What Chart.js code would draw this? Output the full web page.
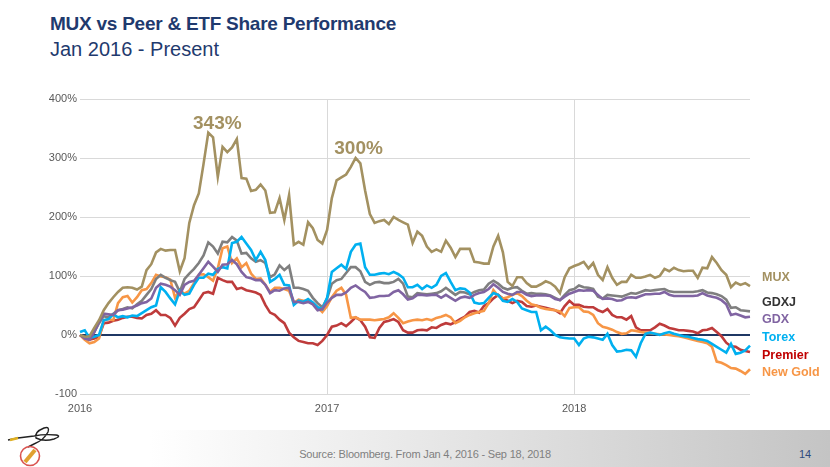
<!DOCTYPE html>
<html><head><meta charset="utf-8">
<script src="https://cdn.jsdelivr.net/npm/chart.js@4.4.1/dist/chart.umd.min.js"></script>
<style>
html,body{margin:0;padding:0;background:#fff;width:830px;height:467px;overflow:hidden;font-family:"Liberation Sans",Arial,sans-serif;}
#footer{position:absolute;left:0;top:430px;width:830px;height:37px;background:linear-gradient(to right,#ffffff 0%,#ffffff 18%,#ececec 45%,#c4c4c4 100%);}
#src{position:absolute;left:0;width:850px;top:448px;text-align:center;font-size:11px;color:#7f7f7f;letter-spacing:-0.2px;}
#pg{position:absolute;left:799px;top:448px;font-size:11px;color:#2e4a7d;}
#t1{position:absolute;left:50px;top:13px;font-size:19px;letter-spacing:-0.25px;font-weight:bold;color:#1f3a6e;white-space:nowrap;}
#t2{position:absolute;left:50px;top:38px;font-size:20px;color:#1f3a6e;white-space:nowrap;}
#wrap{position:absolute;left:0;top:0;width:830px;height:467px;}
#logo{position:absolute;left:4px;top:422px;}
</style></head>
<body>
<div id="footer"></div>
<div id="t1">MUX vs Peer &amp; ETF Share Performance</div>
<div id="t2">Jan 2016 - Present</div>
<div id="src">Source: Bloomberg. From Jan 4, 2016 - Sep 18, 2018</div>
<div id="pg">14</div>
<svg id="logo" width="60" height="45" viewBox="0 0 60 45">
 <path d="M4 18 L14 16 L30 14 Q40 12 52 13 Q58 14 50 17 Q40 20 32 16 Q30 10 40 6 Q46 4 44 10 Q40 18 30 22 L24 25" fill="none" stroke="#222" stroke-width="1.4"/>
 <path d="M6 18 L14 16" stroke="#e0b020" stroke-width="2.5"/>
 <circle cx="26" cy="34" r="9.5" fill="none" stroke="#d9534f" stroke-width="1.6"/>
 <path d="M21 40 L31 28" stroke="#e0a030" stroke-width="4"/>
</svg>
<div id="wrap"><canvas id="c" width="830" height="467"></canvas></div>
<script>
// ---- data ----
const seriesNames = ['MUX','GDXJ','GDX','Torex','Premier','New Gold'];
const yTicks = [-100, 0, 100, 200, 300, 400];
const yearTicks = {0:'2016', 52:'2017', 104:'2018'};
const peakIndex = [27, 58];
const peakLabel = ['343%', '300%'];

const mux = [0,-3,-2,12,25,42,54,64,73,80,81,80,77,82,110,120,140,146,143,144,144,108,130,190,220,240,290,343,335,268,319,310,318,332,266,265,244,246,255,245,207,208,232,195,237,153,158,153,191,181,161,155,178,232,262,267,272,285,300,291,245,205,190,193,195,188,200,195,191,187,156,175,168,150,141,145,141,160,148,132,146,146,146,124,123,121,121,150,168,140,90,83,98,98,88,82,82,86,91,88,82,71,98,113,117,120,124,113,122,102,93,115,97,85,90,90,102,97,97,99,102,97,100,112,108,114,110,108,109,109,97,114,113,132,122,110,102,81,89,85,88,83];
const gdxj = [0,-5,-8,5,20,32,30,36,42,44,47,45,52,58,68,78,95,102,97,93,90,73,95,104,112,122,135,157,150,138,158,157,166,160,138,139,130,124,127,122,98,103,118,110,117,80,80,78,75,63,54,47,62,87,93,95,105,115,115,108,90,85,89,90,88,88,90,95,87,65,64,71,70,69,70,71,74,80,74,68,73,72,69,73,76,77,87,92,87,80,77,80,81,75,70,71,70,70,69,67,63,59,68,76,78,84,81,80,78,65,62,68,67,66,65,68,71,70,73,76,75,76,77,78,74,73,73,73,73,73,74,76,72,71,69,66,60,46,47,42,41,40];
const gdx = [0,-6,-8,5,22,36,35,34,42,43,45,47,50,54,56,62,80,87,85,82,76,68,85,90,92,102,113,124,116,107,119,120,127,120,107,98,96,93,93,85,71,76,75,79,80,56,56,54,56,52,42,44,55,63,68,68,72,80,84,78,73,63,64,66,66,67,73,76,69,60,62,68,68,67,68,68,63,68,63,58,63,65,63,68,71,73,78,86,80,73,70,68,73,73,68,66,67,67,67,66,61,59,65,70,73,76,75,76,75,68,61,62,61,58,59,63,64,63,66,69,69,70,70,73,68,66,66,66,66,66,67,71,67,65,63,59,52,34,36,33,30,31];
const torex = [5,8,-5,-3,0,25,27,35,30,32,30,33,32,37,42,47,50,81,73,62,52,75,68,70,85,97,97,104,102,112,115,113,156,158,166,155,144,127,141,127,90,95,102,85,84,51,58,56,61,55,47,44,63,107,113,119,112,141,153,155,115,102,102,104,105,103,107,103,97,81,81,85,78,84,80,85,100,105,90,76,79,78,72,55,53,54,63,71,68,58,56,61,56,45,42,39,39,8,14,8,0,-4,-5,-6,-6,-17,-6,-3,-4,-6,-8,2,-17,-28,-27,-25,-26,-37,-14,2,4,2,0,3,5,2,0,-2,-3,-5,-7,-8,-10,-15,-20,-25,-30,-15,-32,-30,-26,-18];
const premier = [0,-5,-8,-6,-3,20,21,24,26,29,31,31,29,28,34,36,42,34,34,29,16,29,36,44,47,59,71,73,70,97,93,90,90,78,80,76,74,72,68,51,38,34,26,20,4,-4,-10,-12,-14,-14,-17,-10,0,14,16,20,15,22,30,25,14,-4,-5,12,22,24,27,22,8,4,4,8,9,8,13,12,17,20,18,22,27,31,39,41,38,49,54,62,68,62,58,54,58,56,49,48,50,48,46,44,42,37,49,58,51,51,48,47,47,42,39,44,34,30,30,26,32,13,8,8,8,13,19,16,12,10,8,8,7,6,3,8,9,12,5,-2,-13,-19,-20,-25,-27,-29];
const newGold = [0,-8,-14,-12,-6,25,27,25,54,64,66,55,64,76,78,88,102,99,98,94,63,76,70,75,88,102,103,98,92,113,147,150,122,130,115,122,104,95,96,85,73,80,80,78,75,54,60,58,58,54,47,39,49,64,75,80,68,29,30,26,26,26,25,26,27,30,37,29,20,23,25,26,25,27,25,29,31,34,30,20,24,30,34,37,39,41,54,76,66,62,64,68,71,66,58,52,50,46,44,43,42,40,32,46,47,47,40,39,34,20,14,12,9,5,2,3,8,7,5,4,3,2,1,1,0,-1,-2,-4,-6,-8,-10,-12,-14,-20,-45,-47,-51,-56,-57,-61,-66,-58];

// weekly dates (categories), Jan 4 2016 onward
const labels = [];
{ const d0 = new Date(Date.UTC(2016,0,4));
  for (let i = 0; i < mux.length; i++) { const d = new Date(d0.getTime() + i*7*86400000); labels.push(d.toISOString().slice(0,10)); } }

const colors = ['#a39161','#7f7f7f','#8064a2','#00b0f0','#be3b3b','#f79646'];
const labelColors = ['#a39161','#333333','#8064a2','#00b0f0','#c00000','#f79646'];
const legendY = [278, 303, 320, 338, 356, 373];
const values = [mux, gdxj, gdx, torex, premier, newGold];
const drawOrder = [0, 3, 1, 2, 5, 4];

const datasets = seriesNames.map((n, i) => ({
  label: n, data: values[i], borderColor: colors[i], backgroundColor: colors[i],
  borderWidth: 2.6, pointRadius: 0, tension: 0, order: drawOrder[i]
}));

const extras = {
  id: 'extras',
  afterDatasetsDraw(chart) {
    const {ctx, scales:{x, y}, chartArea} = chart;
    ctx.save();
    ctx.font = 'bold 19px "Liberation Sans", Arial, sans-serif';
    ctx.fillStyle = colors[0];
    ctx.textAlign = 'center';
    ctx.textBaseline = 'bottom';
    const dx = [9, 3], dy = [-1, 0];
    peakIndex.forEach((pi, k) => {
      ctx.fillText(peakLabel[k], x.getPixelForValue(pi) + dx[k], y.getPixelForValue(values[0][pi]) - dy[k]);
    });
    ctx.font = 'bold 12.5px "Liberation Sans", Arial, sans-serif';
    ctx.textAlign = 'left';
    ctx.textBaseline = 'middle';
    seriesNames.forEach((n, i) => {
      ctx.fillStyle = labelColors[i];
      ctx.fillText(n, chartArea.right + 12, legendY[i]);
    });
    ctx.restore();
  }
};

new Chart(document.getElementById('c'), {
  type: 'line',
  data: { labels, datasets },
  options: {
    responsive: false, animation: false,
    layout: { padding: { left: 0, right: 80, top: 99, bottom: 53 } },
    plugins: { legend: { display: false }, tooltip: { enabled: false } },
    scales: {
      x: {
        type: 'category', offset: false,
        border: { display: false },
        grid: { drawTicks: false, color: c => (yearTicks[c.index] && c.index > 0) ? '#d9d9d9' : 'rgba(0,0,0,0)', lineWidth: 1 },
        ticks: { autoSkip: false, maxRotation: 0, padding: 8, color: '#595959',
          font: { family: '"Liberation Sans", Arial, sans-serif', size: 11 },
          callback: (v, i) => yearTicks[i] || '' },
        afterFit: s => { s.height = 20; }
      },
      y: {
        min: -100, max: 400,
        border: { display: false },
        afterBuildTicks: s => { s.ticks = yTicks.map(v => ({ value: v })); },
        grid: { drawTicks: false, color: c => c.tick && c.tick.value === 0 ? '#1f3864' : '#d9d9d9', lineWidth: c => c.tick && c.tick.value === 0 ? 2 : 1 },
        ticks: { padding: 3, color: '#595959', font: { family: '"Liberation Sans", Arial, sans-serif', size: 11 },
          callback: v => v === -100 ? '-100' : v + '%' },
        afterFit: s => { s.width = 80; }
      }
    }
  },
  plugins: [extras]
});
</script>
</body></html>
